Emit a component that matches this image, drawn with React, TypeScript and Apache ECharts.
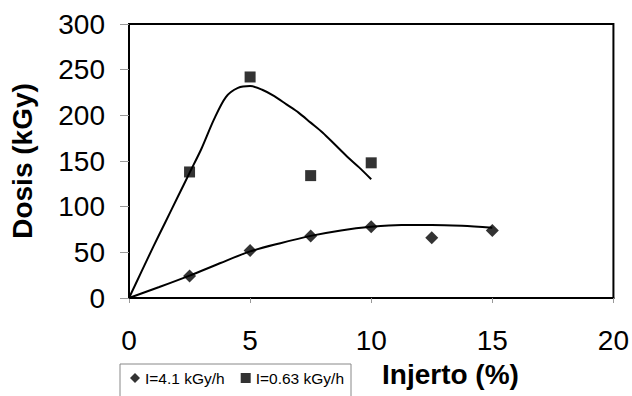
import React, { useEffect, useRef } from "react";
import * as echarts from "echarts";

// Measured points
const seriesNames = ["I=4.1 kGy/h", "I=0.63 kGy/h"];
const highX = [2.5, 5, 7.5, 10, 12.5, 15];
const highY = [24, 52, 68, 78, 66, 74];
const lowX = [2.5, 5, 7.5, 10];
const lowY = [138, 242, 134, 148];

// Trend curves
const highTrendX = [0, 1.25, 2.5, 3.75, 5, 6.25, 7.5, 8.75, 10, 11.25, 12.5, 13.75, 15];
const highTrendY = [0, 12, 24.5, 38, 51, 60, 68, 74, 78, 80, 80, 79, 77];
const lowTrendX = [0, 0.5, 1, 1.5, 2, 2.5, 3, 3.5, 4, 4.5, 5, 5.5, 6, 6.5, 7, 7.5, 8, 8.5, 9, 9.5, 10];
const lowTrendY = [0, 28, 56, 83, 110, 137, 164, 195, 220, 230, 232, 228, 221, 212, 203, 192, 181, 168, 155, 143, 130];

const xTicks = [0, 20, 5];
const yTicks = [0, 300, 50];

const zip = (xs: number[], ys: number[]) => xs.map((x, i) => [x, ys[i]]);

export default function App() {
  const ref = useRef<HTMLDivElement>(null);
  useEffect(() => {
    if (!ref.current) return;
    const chart = echarts.init(ref.current, undefined, { renderer: "svg" });
    const font = "'Liberation Sans', Arial, sans-serif";
    chart.setOption({
      animation: false,
      backgroundColor: "#ffffff",
      textStyle: { fontFamily: font, color: "#000" },
      grid: {
        left: 127,
        right: 17,
        top: 24,
        bottom: 98,
        show: true,
        borderColor: "#000",
        borderWidth: 2,
        backgroundColor: "transparent",
      },
      xAxis: {
        type: "value",
        min: xTicks[0],
        max: xTicks[1],
        interval: xTicks[2],
        axisLine: { show: true, onZero: false, lineStyle: { color: "#000", width: 2 } },
        axisTick: { show: true, length: 5, lineStyle: { color: "#999" } },
        splitLine: { show: false },
        axisLabel: { fontSize: 28, color: "#000", margin: 28, fontFamily: font },
      },
      yAxis: {
        type: "value",
        min: yTicks[0],
        max: yTicks[1],
        interval: yTicks[2],
        name: "Dosis (kGy)",
        nameLocation: "middle",
        nameGap: 93,
        nameRotate: 90,
        nameTextStyle: { fontSize: 28, fontWeight: "bold", color: "#000", fontFamily: font },
        axisLine: { show: true, lineStyle: { color: "#000", width: 2 } },
        axisTick: { show: true, length: 9, lineStyle: { color: "#999" } },
        splitLine: { show: false },
        axisLabel: { fontSize: 28, color: "#000", margin: 24, fontFamily: font },
      },
      legend: {
        left: 130,
        top: 370,
        padding: 0,
        itemGap: 16,
        itemWidth: 10,
        itemHeight: 10,
        textStyle: { fontSize: 15.5, color: "#000", fontFamily: font },
        data: [
          { name: seriesNames[0], icon: "diamond" },
          { name: seriesNames[1], icon: "rect" },
        ],
      },
      graphic: [
        {
          type: "rect",
          shape: { x: 120, y: 364, width: 231, height: 40 },
          style: { fill: "none", stroke: "#888", lineWidth: 1 },
          silent: true,
        },
        {
          type: "text",
          left: 382,
          top: 360,
          style: {
            text: "Injerto (%)",
            fontSize: 28,
            fontWeight: "bold",
            fill: "#000",
            fontFamily: font,
          },
        },
      ],
      series: [
        {
          name: seriesNames[0],
          type: "scatter",
          symbol: "diamond",
          symbolSize: 13,
          itemStyle: { color: "#000" },
          data: zip(highX, highY),
          z: 5,
        },
        {
          name: seriesNames[1],
          type: "scatter",
          symbol: "rect",
          symbolSize: 11,
          itemStyle: { color: "#000" },
          data: zip(lowX, lowY),
          z: 5,
        },
        {
          name: "trend high",
          type: "line",
          smooth: 0.3,
          showSymbol: false,
          lineStyle: { color: "#000", width: 2 },
          data: zip(highTrendX, highTrendY),
          z: 3,
        },
        {
          name: "trend low",
          type: "line",
          smooth: 0.3,
          showSymbol: false,
          lineStyle: { color: "#000", width: 2 },
          data: zip(lowTrendX, lowTrendY),
          z: 3,
        },
      ],
    });
    return () => chart.dispose();
  }, []);
  return (
    <div
      ref={ref}
      style={{ position: "fixed", left: 0, top: 0, width: 632, height: 396 }}
    />
  );
}
